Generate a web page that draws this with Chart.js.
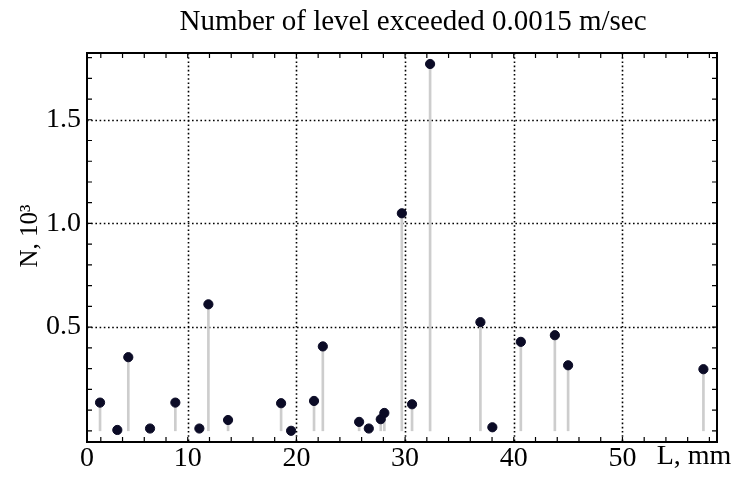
<!DOCTYPE html>
<html lang="en">
<head>
  <meta charset="UTF-8">
  <title>Number of level exceeded 0.0015 m/sec</title>
  <script src="https://cdn.jsdelivr.net/npm/chart.js"></script>
  <style>
    html, body {
      margin: 0;
      padding: 0;
      background: #fff;
    }

    #chart-container {
      width: 736px;
      height: 477px;
      position: relative;
    }
  </style>
</head>
<body>
  <div id="chart-container">
    <canvas id="stemChart"></canvas>
  </div>

  <script>
    // distance along the sample, mm
    const distanceMm = [1.93, 3.52, 4.53, 6.53, 8.86, 11.07, 11.90, 13.71, 18.59, 19.51, 21.62, 22.43, 25.77,
      26.66, 27.76, 28.09, 29.70, 30.64, 32.30, 36.93, 38.03, 40.65, 43.78, 45.00, 57.45];
    // number of exceedances, thousands
    const exceedCount = [0.136, 0.004, 0.355, 0.011, 0.136, 0.011, 0.610, 0.052, 0.133, 0.000, 0.144, 0.407, 0.043,
      0.011, 0.056, 0.086, 1.049, 0.128, 1.769, 0.524, 0.017, 0.429, 0.461, 0.316, 0.297];

    const xTickLabels = [0, 10, 20, 30, 40, 50];
    const yTickLabels = [0.5, 1.0, 1.5];
    const xRange = [0.73, 58.7];
    const yRange = [-0.054, 1.822];
    const xMinorStep = 2;
    const yMinorStep = 0.1;

    const serif = "'Liberation Serif', 'DejaVu Serif', serif";
    const points = distanceMm.map((x, i) => ({ x: x, y: exceedCount[i] }));

    // dotted grid, framed box with inward ticks, titles
    const framePlugin = {
      id: 'framePlugin',
      beforeDatasetsDraw(chart) {
        const { ctx, chartArea: a, scales: { x, y } } = chart;
        ctx.save();
        ctx.strokeStyle = '#000';
        ctx.lineWidth = 1.6;
        ctx.setLineDash([1.6, 2.6]);
        xTickLabels.filter(v => v > xRange[0]).forEach(v => {
          const px = Math.round(x.getPixelForValue(v)) + 0.5;
          ctx.beginPath();
          ctx.moveTo(px, a.top);
          ctx.lineTo(px, a.bottom);
          ctx.stroke();
        });
        yTickLabels.forEach(v => {
          const py = Math.round(y.getPixelForValue(v)) + 0.5;
          ctx.beginPath();
          ctx.moveTo(a.left, py);
          ctx.lineTo(a.right, py);
          ctx.stroke();
        });
        ctx.restore();
      },
      afterDatasetsDraw(chart) {
        const { ctx, chartArea: a, scales: { x, y } } = chart;
        ctx.save();
        ctx.strokeStyle = '#000';
        ctx.lineWidth = 1.2;
        const tick = 5;
        for (let v = xMinorStep; v < xRange[1]; v += xMinorStep) {
          const px = x.getPixelForValue(v);
          ctx.beginPath();
          ctx.moveTo(px, a.bottom);
          ctx.lineTo(px, a.bottom - tick);
          ctx.moveTo(px, a.top);
          ctx.lineTo(px, a.top + tick);
          ctx.stroke();
        }
        for (let k = 0; k * yMinorStep < yRange[1]; k++) {
          const py = y.getPixelForValue(k * yMinorStep);
          ctx.beginPath();
          ctx.moveTo(a.left, py);
          ctx.lineTo(a.left + tick, py);
          ctx.moveTo(a.right, py);
          ctx.lineTo(a.right - tick, py);
          ctx.stroke();
        }
        ctx.lineWidth = 2;
        ctx.strokeRect(a.left, a.top, a.right - a.left, a.bottom - a.top);

        // titles
        ctx.fillStyle = '#000';
        ctx.font = '29px ' + serif;
        ctx.textAlign = 'center';
        ctx.textBaseline = 'middle';
        ctx.fillText('Number of level exceeded 0.0015 m/sec', 413, 22);

        ctx.font = '28px ' + serif;
        ctx.fillText('L, mm', 694, 457);

        ctx.translate(30, 236);
        ctx.rotate(-Math.PI / 2);
        ctx.font = '25px ' + serif;
        ctx.fillText('N, 10\u00B3', 0, 0);
        ctx.restore();
      }
    };

    const ctx = document.getElementById('stemChart').getContext('2d');
    const stemChart = new Chart(ctx, {
      type: 'scatter',
      data: {
        datasets: [
          {
            type: 'scatter',
            data: points,
            backgroundColor: '#0b0b26',
            borderColor: '#0b0b26',
            pointRadius: 4.6,
            pointHoverRadius: 4.6,
            order: 1
          },
          {
            type: 'bar',
            data: points,
            backgroundColor: '#cdcdcd',
            borderWidth: 0,
            barThickness: 2,
            order: 2
          }
        ]
      },
      options: {
        responsive: true,
        maintainAspectRatio: false,
        animation: false,
        layout: {
          padding: { top: 53, right: 19, left: 0, bottom: 0 }
        },
        plugins: {
          legend: { display: false },
          title: { display: false },
          tooltip: { enabled: false }
        },
        scales: {
          x: {
            type: 'linear',
            min: xRange[0],
            max: xRange[1],
            offset: false,
            grid: { display: false, drawTicks: false },
            border: { display: false },
            afterBuildTicks: scale => {
              scale.ticks = xTickLabels.map(v => ({ value: Math.max(v, xRange[0]) }));
            },
            afterFit: scale => { scale.height = 35; },
            ticks: {
              autoSkip: false,
              maxRotation: 0,
              padding: 0,
              color: '#000',
              font: { family: serif, size: 28 },
              callback: (v, i) => String(xTickLabels[i])
            }
          },
          y: {
            type: 'linear',
            min: yRange[0],
            max: yRange[1],
            grid: { display: false, drawTicks: false },
            border: { display: false },
            afterBuildTicks: scale => {
              scale.ticks = yTickLabels.map(v => ({ value: v }));
            },
            afterFit: scale => { scale.width = 87; },
            ticks: {
              padding: 6,
              color: '#000',
              font: { family: serif, size: 28 },
              callback: v => v.toFixed(1)
            }
          }
        }
      },
      plugins: [framePlugin]
    });
  </script>
</body>
</html>
